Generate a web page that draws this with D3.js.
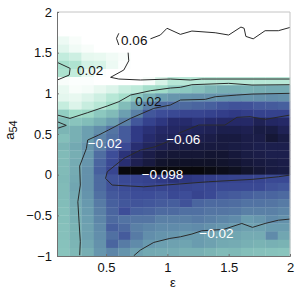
<!DOCTYPE html>
<html lang="en">
	<head>
		<meta charset="UTF-8" />
		<title>a54 against epsilon</title>
		<script src="https://d3js.org/d3.v7.min.js"></script>
		<style>
			body {
				margin: 0;
				background: white;
			}
			svg {
				display: block;
				font-family: "Liberation Sans", sans-serif;
			}
		</style>
	</head>
	<body>
		<svg id="svg" width="298" height="290"></svg>
		<script>
			// values in thousandths, top row first
			const cellValues = [
				[60,60,60,60,60,60,60,60,60,60,60,60,60,60,60,60,60,60,60],
				[60,60,60,60,60,60,60,60,60,60,60,60,60,60,60,60,60,60,60],
				[60,60,60,60,60,60,60,60,60,60,60,60,60,60,60,60,60,60,60],
				[50,56,60,60,60,60,60,60,60,60,60,60,60,60,60,60,60,60,60],
				[44,52,56,60,60,60,60,60,60,60,60,60,60,60,60,60,60,60,60],
				[32,36,46,48,52,56,60,60,60,60,60,60,60,60,60,60,60,60,60],
				[22,25,38,40,50,58,60,60,60,60,60,60,60,60,60,60,60,60,60],
				[24,32,48,58,60,60,60,60,60,60,60,60,60,60,60,60,60,60,60],
				[56,58,58,60,60,60,60,55,40,28,28,28,28,28,28,28,28,28,28],
				[48,56,54,47,42,34,30,22,20,12,10,6,0,-3,-3,-2,-3,-4,-4],
				[45,47,42,36,28,22,10,-2,-9,-12,-13,-14,-14,-13,-14,-13,-14,-15,-14],
				[33,42,34,28,20,4,-8,-20,-28,-28,-28,-30,-32,-36,-38,-38,-35,-34,-32],
				[13,20,18,10,3,-9,-20,-36,-40,-42,-44,-44,-46,-48,-50,-48,-46,-46,-46],
				[5,8,4,-2,-9,-20,-36,-46,-52,-60,-60,-56,-60,-62,-62,-62,-70,-64,-62],
				[0,-2,-9,-15,-24,-34,-50,-56,-62,-64,-66,-68,-70,-74,-74,-72,-78,-78,-70],
				[5,-2,-9,-19,-26,-34,-50,-60,-66,-68,-72,-74,-76,-80,-80,-76,-76,-84,-78],
				[0,-5,-12,-20,-32,-42,-58,-66,-72,-76,-78,-80,-80,-80,-78,-76,-74,-74,-74],
				[3,-3,-11,-27,-40,-55,-68,-76,-82,-84,-84,-84,-86,-86,-82,-78,-76,-74,-74],
				[3,-4,-12,-30,-42,-58,-72,-80,-88,-90,-90,-90,-90,-88,-86,-82,-80,-78,-76],
				[3,-4,-14,-32,-44,-98,-98,-98,-98,-98,-98,-98,-96,-94,-92,-88,-84,-80,-78],
				[2,-5,-14,-28,-38,-42,-44,-46,-50,-55,-52,-50,-48,-46,-45,-45,-44,-42,-42],
				[3,-6,-14,-28,-38,-40,-42,-44,-44,-44,-44,-43,-43,-42,-42,-42,-42,-38,-36],
				[3,-5,-13,-26,-35,-38,-40,-40,-38,-42,-40,-45,-42,-36,-34,-32,-30,-30,-28],
				[4,-4,-11,-22,-32,-36,-37,-36,-34,-33,-38,-30,-28,-28,-27,-25,-25,-24,-22],
				[5,-3,-10,-20,-30,-40,-32,-31,-28,-28,-26,-26,-24,-24,-23,-20,-20,-20,-18],
				[5,-2,-9,-18,-28,-25,-24,-24,-20,-20,-20,-22,-20,-18,-16,-10,-12,-16,-14],
				[6,-1,-8,-16,-32,-28,-20,-18,-16,-16,-15,-16,-14,-12,-10,-8,-8,-10,-10],
				[6,-1,-8,-15,-26,-34,-22,-15,-13,-12,-10,-10,-8,-6,-6,-4,-4,-16,-6],
				[7,0,-6,-14,-30,-22,-16,-11,-9,-8,-7,-10,-8,-5,-4,-2,-1,-2,-1],
				[8,2,-3,-12,-18,-13,-8,-5,-4,-4,-2,-2,0,3,2,5,6,7,8],
			];

			const xStart = 0.1;
			const cellStep = 0.1;
			const yTop = 2;

			const xTicks = [0.5, 1, 1.5, 2];
			const yTicks = [-1, -0.5, 0, 0.5, 1, 1.5, 2];

			const rampValues = [-98, -90, -80, -70, -60, -50, -40, -30, -20, -10, 0, 10, 20, 30, 45, 60];
			const rampColors = [
				"#08080c", "#101228", "#181a40", "#1f2255", "#262b6c", "#303a85", "#3d4d98", "#4a659f",
				"#5a80a6", "#6a9caf", "#7cb5b5", "#8cc8bf", "#a0dcc8", "#bdeada", "#e4f7ee", "#ffffff",
			];

			// contour lines as [epsilon, a54]
			const contour06 = [
				[[2,1.81],[1.905,1.77],[1.797,1.77],[1.7,1.67],[1.64,1.7],[1.626,1.8],[1.6,1.815],[1.5,1.717],[1.39,1.745],[1.2,1.766],[1.106,1.725],[0.997,1.8],[0.943,1.717],[0.862,1.67]],
				[[0.604,1.738],[0.585,1.676],[0.604,1.594]],
				[[0.68,1.5],[0.685,1.4],[0.645,1.287],[0.537,1.197],[0.604,1.176],[0.78,1.164],[1.024,1.176],[1.187,1.164],[1.28,1.176],[2,1.176]],
			];
			const contour02 = [
				[[0.103,1.38],[0.207,1.307],[0.2,1.225],[0.103,1.164]],
				[[0.103,0.733],[0.206,0.692],[0.347,0.761],[0.51,0.844],[0.604,0.897],[0.7,0.979],[0.862,1.032],[1.024,1.065],[1.106,1.074],[1.2,1.106],[1.5,1.123],[1.69,1.102],[2,1.106]],
				[[0.103,0.651],[0.176,0.606],[0.103,0.569]],
			];
			const contourMinus02 = [
				[[0.285,-0.99],[0.29,-0.825],[0.28,-0.58],[0.27,-0.333],[0.29,-0.128],[0.285,0.106],[0.34,0.322],[0.35,0.426],[0.44,0.487],[0.52,0.549],[0.7,0.692],[0.889,0.815],[1.024,0.856],[1.106,0.918],[1.31,0.926],[1.39,0.958],[1.567,0.979],[1.69,0.991],[2,1]],
				[[0.726,-0.997],[0.78,-0.927],[0.889,-0.833],[1.02,-0.784],[1.106,-0.764],[1.2,-0.73],[1.28,-0.69],[1.458,-0.673],[1.607,-0.6],[1.694,-0.648],[1.797,-0.6],[1.905,-0.56],[2,-0.546]],
			];
			const contourMinus06 = [
				[[2,-0.005],[1.905,-0.026],[1.69,-0.058],[1.336,-0.087],[0.983,-0.128],[0.807,-0.149],[0.55,-0.128],[0.496,-0.046],[0.51,0.036],[0.645,0.2],[0.78,0.302],[0.9,0.343],[1.02,0.417]],
				[[1.09,0.508],[1.255,0.61],[1.33,0.61],[1.47,0.61],[1.567,0.705],[1.675,0.713],[1.797,0.68],[2,0.733]],
			];

			const contourLabels = ["0.06", "0.02", "0.02", "−0.02", "−0.06", "−0.098", "−0.02"];
			const labelX = [0.73, 0.37, 0.845, 0.49, 1.13, 0.96, 1.4];
			const labelY = [1.65, 1.28, 0.9, 0.38, 0.44, 0.01, -0.72];
			const labelColors = ["#111", "#111", "#111", "#fff", "#fff", "#fff", "#fff"];

			const svg = d3.select("svg");

			const x = d3.scaleLinear().domain([0.1, 2]).range([57, 290]);
			const y = d3.scaleLinear().domain([-1, 2]).range([256, 12]);
			const color = d3.scaleLinear().domain(rampValues).range(rampColors).clamp(true);

			const cells = cellValues.flatMap((row, r) =>
				row.map((value, c) => ({ r, c, value }))
			);

			svg.append("g")
				.selectAll("rect")
				.data(cells)
				.enter()
				.append("rect")
				.attr("x", (d) => x(xStart + d.c * cellStep))
				.attr("y", (d) => y(yTop - d.r * cellStep))
				.attr("width", x(xStart + cellStep) - x(xStart) + 0.3)
				.attr("height", y(yTop - cellStep) - y(yTop) + 0.3)
				.attr("fill", (d) => color(d.value));

			const line = d3
				.line()
				.x((d) => x(d[0]))
				.y((d) => y(d[1]));

			svg.append("g")
				.selectAll("path")
				.data([...contour06, ...contour02, ...contourMinus02, ...contourMinus06])
				.enter()
				.append("path")
				.attr("d", line)
				.attr("fill", "none")
				.attr("stroke", "#2a2a2a")
				.attr("stroke-width", 1);

			svg.append("g")
				.selectAll("text")
				.data(contourLabels)
				.enter()
				.append("text")
				.text((d) => d)
				.attr("x", (d, i) => x(labelX[i]))
				.attr("y", (d, i) => y(labelY[i]))
				.attr("dy", "0.35em")
				.attr("text-anchor", "middle")
				.attr("font-size", 13.5)
				.attr("fill", (d, i) => labelColors[i]);

			// frame: right and top are lighter
			svg.append("path")
				.attr("d", `M${x(0.1)},${y(2)}H${x(2)}V${y(-1)}`)
				.attr("fill", "none")
				.attr("stroke", "#c4c4c4");

			const xAxis = d3
				.axisBottom(x)
				.tickValues(xTicks)
				.tickFormat((d) => String(d))
				.tickSize(-2)
				.tickPadding(7);
			const yAxis = d3
				.axisLeft(y)
				.tickValues(yTicks)
				.tickFormat((d) => String(d).replace("-", "−"))
				.tickSize(-2)
				.tickPadding(5);

			const gx = svg.append("g").attr("transform", `translate(0,${y(-1)})`).call(xAxis);
			const gy = svg.append("g").attr("transform", `translate(${x(0.1)},0)`).call(yAxis);

			[gx, gy].forEach((g) => {
				g.selectAll("path, line").attr("stroke", "#707070");
				g.selectAll("text")
					.attr("font-size", 13)
					.attr("font-family", "Liberation Sans")
					.attr("fill", "#111");
			});

			svg.append("text")
				.text("ε")
				.attr("x", 173)
				.attr("y", 287)
				.attr("text-anchor", "middle")
				.attr("font-size", 13)
				.attr("fill", "#111");

			const yTitle = svg
				.append("text")
				.attr("transform", "translate(14,130) rotate(-90)")
				.attr("text-anchor", "middle")
				.attr("font-size", 13)
				.attr("fill", "#111");
			yTitle.append("tspan").text("a");
			yTitle.append("tspan").text("54").attr("font-size", 11).attr("dy", 3);
		</script>
	</body>
</html>
